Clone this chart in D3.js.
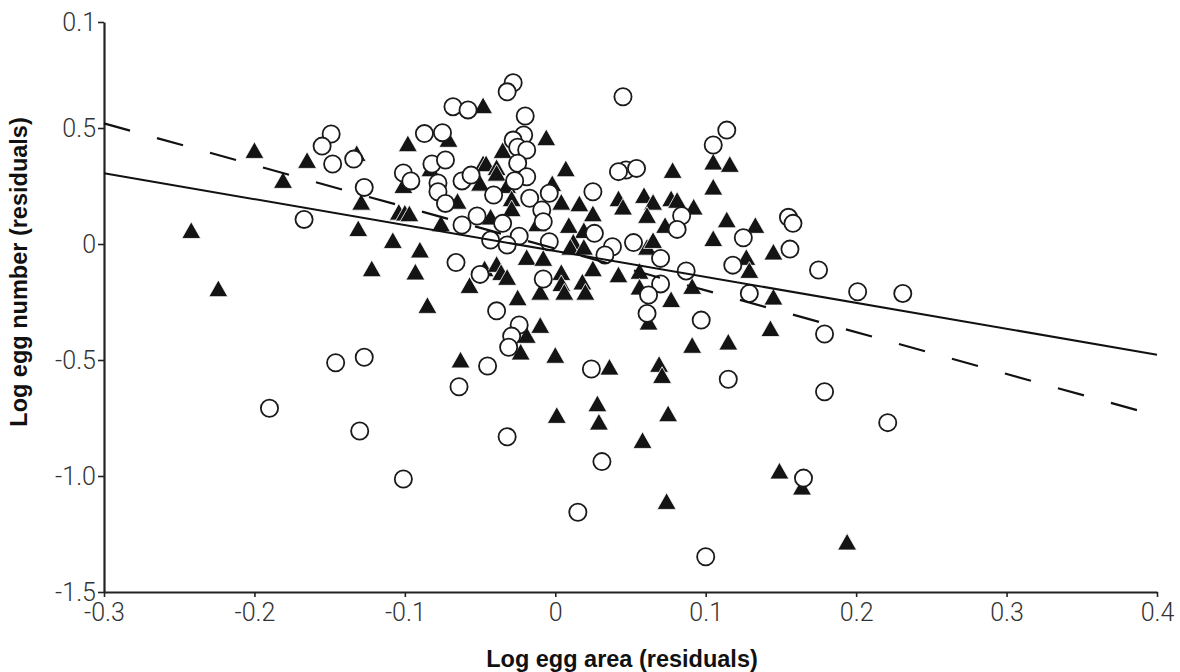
<!DOCTYPE html>
<html>
<head>
<meta charset="utf-8">
<script src="https://cdnjs.cloudflare.com/ajax/libs/d3/7.8.5/d3.min.js"></script>
<style>
  body { margin: 0; background: #fff; }
  svg { display: block; }
</style>
</head>
<body>
<svg id="chart" width="1180" height="672"></svg>
<script>
// axis ticks (the top label really reads "0.1" in the source figure)
const xTicks = [-0.3, -0.2, -0.1, 0, 0.1, 0.2, 0.3, 0.4];
const xTickLabels = ["-0.3", "-0.2", "-0.1", "0", "0.1", "0.2", "0.3", "0.4"];
const yTicks = [-1.5, -1.0, -0.5, 0, 0.5, 0.957];
const yTickLabels = ["-1.5", "-1.0", "-0.5", "0", "0.5", "0.1"];

// open circles: [log egg area resid, log egg number resid]
const circles = [
  [-0.149, 0.474], [-0.155, 0.422], [-0.148, 0.345], [-0.134, 0.366], [-0.127, 0.244],
  [-0.167, 0.106], [-0.068, 0.592], [-0.058, 0.578], [-0.087, 0.476], [-0.075, 0.480],
  [-0.082, 0.345], [-0.073, 0.362], [-0.101, 0.306], [-0.096, 0.272], [-0.078, 0.263],
  [-0.078, 0.225], [-0.062, 0.272], [-0.056, 0.297], [-0.073, 0.175], [-0.062, 0.082],
  [-0.052, 0.121], [-0.041, 0.211], [-0.043, 0.017], [-0.066, -0.080], [-0.050, -0.131],
  [-0.028, 0.695], [-0.032, 0.656], [-0.020, 0.552], [0.045, 0.635], [-0.021, 0.470],
  [-0.028, 0.448], [-0.025, 0.417], [-0.019, 0.405], [-0.025, 0.348], [-0.019, 0.290],
  [-0.027, 0.273], [-0.017, 0.197], [-0.009, 0.147], [-0.008, 0.096], [-0.004, 0.219],
  [0.025, 0.225], [-0.035, 0.089], [-0.024, 0.034], [-0.032, -0.004], [-0.004, 0.010],
  [0.026, 0.046], [0.038, -0.012], [0.033, -0.047], [0.052, 0.006], [0.070, -0.062],
  [0.047, 0.319], [0.042, 0.312], [0.054, 0.326], [0.105, 0.427], [0.114, 0.491],
  [0.084, 0.122], [0.081, 0.063], [0.125, 0.027], [0.118, -0.091], [0.087, -0.116],
  [-0.008, -0.151], [0.155, 0.115], [0.158, 0.089], [0.156, -0.022], [0.175, -0.112],
  [-0.146, -0.512], [-0.127, -0.488], [-0.039, -0.288], [-0.045, -0.526], [-0.064, -0.615],
  [-0.190, -0.708], [-0.130, -0.806], [-0.101, -1.013], [-0.024, -0.349], [-0.029, -0.397],
  [-0.031, -0.445], [0.024, -0.539], [0.070, -0.172], [0.062, -0.220], [0.061, -0.299],
  [0.097, -0.328], [0.129, -0.213], [0.115, -0.583], [-0.032, -0.831], [0.031, -0.938],
  [0.015, -1.156], [0.201, -0.206], [0.231, -0.213], [0.179, -0.388], [0.179, -0.637],
  [0.221, -0.770], [0.165, -1.009], [0.100, -1.348]
];

// filled triangles
const triangles = [
  [-0.200, 0.405], [-0.165, 0.362], [-0.181, 0.276], [-0.242, 0.060], [-0.132, 0.392],
  [-0.129, 0.182], [-0.131, 0.068], [-0.104, 0.139], [-0.100, 0.135], [-0.097, 0.132],
  [-0.108, 0.017], [-0.090, -0.024], [-0.122, -0.105], [-0.093, -0.119], [-0.098, 0.434],
  [-0.071, 0.453], [-0.048, 0.598], [-0.048, 0.348], [-0.083, 0.326], [-0.076, 0.089],
  [-0.065, 0.186], [-0.101, 0.254], [-0.006, 0.460], [-0.035, 0.405], [0.007, 0.326],
  [0.078, 0.319], [0.105, 0.355], [0.116, 0.345], [0.105, 0.247], [-0.046, 0.348],
  [-0.039, 0.331], [-0.039, 0.307], [-0.050, 0.264], [-0.032, 0.254], [-0.002, 0.262],
  [-0.029, 0.197], [-0.029, 0.154], [0.004, 0.182], [0.016, 0.175], [0.025, 0.132],
  [0.042, 0.197], [0.045, 0.161], [0.059, 0.211], [0.065, 0.182], [0.077, 0.197],
  [0.081, 0.190], [0.092, 0.161], [0.061, 0.125], [0.073, 0.082], [0.114, 0.106],
  [0.105, 0.025], [0.009, 0.082], [0.019, 0.060], [0.012, 0.010], [-0.012, 0.089],
  [-0.043, 0.118], [-0.019, -0.056], [-0.008, -0.060], [0.010, -0.012], [0.019, -0.012],
  [0.025, -0.105], [0.061, -0.012], [0.065, 0.017], [0.042, -0.131], [0.056, -0.116],
  [0.004, -0.121], [-0.047, -0.105], [-0.039, -0.086], [-0.036, -0.121], [-0.032, -0.142],
  [0.127, -0.056], [0.133, 0.082], [0.145, -0.033], [0.129, -0.112], [-0.224, -0.191],
  [-0.057, -0.177], [-0.085, -0.263], [-0.063, -0.498], [-0.025, -0.230], [-0.010, -0.349],
  [-0.019, -0.392], [-0.023, -0.464], [0.000, -0.478], [-0.010, -0.206], [0.004, -0.169],
  [0.006, -0.206], [0.018, -0.162], [0.020, -0.206], [0.056, -0.184], [0.062, -0.335],
  [0.077, -0.238], [0.091, -0.181], [0.091, -0.435], [0.115, -0.421], [0.036, -0.529],
  [0.069, -0.517], [0.071, -0.565], [0.028, -0.687], [0.029, -0.766], [0.001, -0.737],
  [0.075, -0.730], [0.058, -0.845], [0.145, -0.227], [0.143, -0.363], [0.149, -0.977],
  [0.074, -1.108], [0.164, -1.046], [0.194, -1.283]
];

// fitted lines, end points at the x range limits
const fitSolid = [[-0.3, 0.305], [0.4, -0.477]];
const fitDashed = [[-0.3, 0.52], [0.4, -0.74]];

const svg = d3.select("#chart");
svg.append("rect").attr("width", 1180).attr("height", 672).attr("fill", "#fff");

const x = d3.scaleLinear().domain([-0.3, 0.4]).range([104, 1157]);
const y = d3.scaleLinear().domain([-1.5, 0.957]).range([592, 22]);

const xAxis = svg.append("g")
  .attr("transform", "translate(0,592)")
  .call(d3.axisBottom(x)
    .tickValues(xTicks)
    .tickFormat((d, i) => xTickLabels[i])
    .tickSize(5)
    .tickSizeOuter(0)
    .tickPadding(6));

const yAxis = svg.append("g")
  .attr("transform", "translate(104,0)")
  .call(d3.axisLeft(y)
    .tickValues(yTicks)
    .tickFormat((d, i) => yTickLabels[i])
    .tickSize(6)
    .tickSizeOuter(0)
    .tickPadding(2));

[xAxis, yAxis].forEach(g => {
  g.attr("font-size", null).attr("font-family", null);
  g.select(".domain").attr("stroke", "#222").attr("stroke-width", 2.2);
  g.selectAll(".tick line").attr("stroke", "#222").attr("stroke-width", 1.6);
  g.selectAll(".tick text")
    .style("font-family", "Roboto, 'Liberation Sans', sans-serif")
    .style("font-weight", "300")
    .style("font-size", "25px")
    .style("fill", "#333");
});

// triangle with its centre at mid height
const tri = {
  draw(ctx, size) {
    const w = Math.sqrt(size), h = w * 0.88;
    ctx.moveTo(0, -h / 2);
    ctx.lineTo(w / 2, h / 2);
    ctx.lineTo(-w / 2, h / 2);
    ctx.closePath();
  }
};

svg.append("g")
  .selectAll("path")
  .data(triangles)
  .join("path")
    .attr("transform", d => `translate(${x(d[0])},${y(d[1])})`)
    .attr("d", d3.symbol().type(tri).size(19 * 19))
    .attr("fill", "#141414")
    .attr("stroke", "#fff")
    .attr("stroke-width", 0.8);

svg.append("g")
  .selectAll("circle")
  .data(circles)
  .join("circle")
    .attr("cx", d => x(d[0]))
    .attr("cy", d => y(d[1]))
    .attr("r", 8.6)
    .attr("fill", "#fff")
    .attr("stroke", "#1a1a1a")
    .attr("stroke-width", 1.8);

const line = d3.line().x(d => x(d[0])).y(d => y(d[1]));

svg.append("path")
  .datum(fitSolid)
  .attr("d", line)
  .attr("fill", "none")
  .attr("stroke", "#111")
  .attr("stroke-width", 2);

svg.append("path")
  .datum(fitDashed)
  .attr("d", line)
  .attr("fill", "none")
  .attr("stroke", "#111")
  .attr("stroke-width", 2.2)
  .attr("stroke-dasharray", "27,28");

const titleStyle = sel => sel
  .style("font-family", "'Liberation Sans', Arial, sans-serif")
  .style("font-weight", "bold")
  .style("font-size", "23.5px")
  .style("fill", "#111")
  .attr("text-anchor", "middle");

svg.append("text")
  .attr("x", 622)
  .attr("y", 667)
  .call(titleStyle)
  .text("Log egg area (residuals)");

svg.append("text")
  .attr("transform", "translate(27,272) rotate(-90)")
  .call(titleStyle)
  .text("Log egg number (residuals)");
</script>
</body>
</html>
